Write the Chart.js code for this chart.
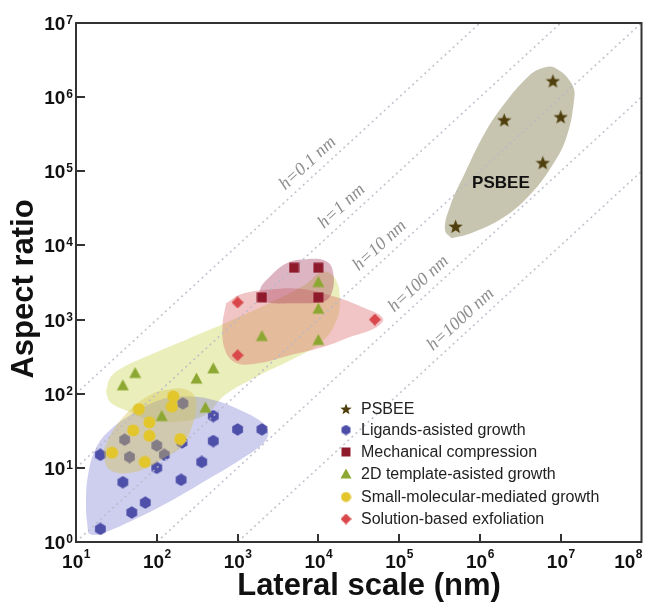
<!DOCTYPE html>
<html>
<head>
<meta charset="utf-8">
<script src="https://cdn.jsdelivr.net/npm/chart.js@4.4.1/dist/chart.umd.min.js"></script>
<style>
  html, body { margin: 0; padding: 0; background: #fff; }
  #wrap { width: 650px; height: 602px; }
</style>
</head>
<body>
<div id="wrap"><canvas id="chart" width="650" height="602"></canvas></div>
<script>
// Series names, in legend order
const seriesNames = ['PSBEE', 'Ligands-asisted growth', 'Mechanical compression',
    '2D template-asisted growth', 'Small-molecular-mediated growth', 'Solution-based exfoliation'];

// Point values (lateral scale in nm, aspect ratio)
const psbeeX = [8e6, 2e6, 1e7, 6e6, 5e5];
const psbeeY = [1.65e6, 4.9e5, 5.4e5, 1.3e5, 1.8e4];
const ligandsX = [20, 38, 49, 72, 20, 100, 200, 360, 500, 500, 1000, 2000, 210, 40, 46, 100, 124, 205];
const ligandsY = [15, 6.4, 2.5, 3.4, 1.5, 10, 6.9, 12, 23, 50, 33, 33, 74, 24, 14, 20, 15, 22];
const mechX = [5e3, 1e4, 2e3, 1e4];
const mechY = [5e3, 5e3, 2e3, 2e3];
const templateX = [1e4, 1e4, 2e3, 1e4, 38, 54, 310, 500, 115, 400];
const templateY = [3.2e3, 1.4e3, 600, 530, 130, 190, 160, 220, 50, 65];
const smallX = [28, 71, 51, 81, 81, 60, 160, 154, 195];
const smallY = [16, 12, 32, 27, 41, 62, 92, 67, 24.5];
const solutionX = [1e3, 1e3, 5e4];
const solutionY = [1.7e3, 330, 1e3];

// Shaded outlines round each group (lateral, aspect)
const regionPsbee = [[4.47e5,1.25e4],[3.69e5,1.62e4],[4.26e5,3.35e4],[6.52e5,9.46e4],[1.15e6,3.28e5],[2.04e6,8.32e5],[3.96e6,1.9e6],[5.81e6,2.45e6],[8.47e6,2.5e6],[1.4e7,1.45e6],[1.45e7,8.32e5],[1.15e7,2.66e5],[7.71e6,1.16e5],[4.36e6,5.08e4],[2.04e6,2.45e4],[7.89e5,1.47e4]];
const regionLigands = [[14.2,1.31],[13.3,2.99],[14.2,8.45],[18,19.3],[26.4,32.5],[51.2,54.5],[110,82.5],[234,91.4],[500,82.5],[1070,60.4],[2080,40],[2400,29.3],[2080,21.5],[1070,12.8],[415,6.87],[132,3.33],[51.2,1.98],[24,1.38],[16.4,1.24]];
const regionTemplate = [[23.5,106],[26.4,163],[35.1,216],[82.4,334],[258,566],[805,960],[2520,1680],[6820,2940],[1.11e4,4400],[1.6e4,3650],[1.85e4,1840],[1.65e4,931],[1.11e4,500],[5130,304],[1890,179],[698,96.4],[395,51.8],[168,41.6],[82.4,44.3],[40.4,60.4],[26.4,77.5]];
const regionSmall = [[21.8,17.4],[29,32.5],[46.6,60.4],[82.4,96.4],[146,115],[234,113],[306,82.5],[273,36],[203,19.3],[132,14.2],[75,9.88],[42.4,8.45],[29,8.89],[24,10.4]];
const regionMech = [[1990,1750],[1890,2520],[2520,3800],[4060,5770],[7160,6530],[1.27e4,6070],[1.53e4,4230],[1.46e4,2270],[1.15e4,1750],[4460,1660],[2770,1660]];
const regionSolution = [[720,1660],[1100,2200],[2520,2550],[5910,2600],[1.53e4,2060],[3.6e4,1450],[6.3e4,1040],[5.27e4,790],[2.46e4,580],[1.15e4,425],[4460,330],[1720,255],[950,262],[700,390],[650,805]];

// Constant thickness guide lines: aspect = lateral / h
const thickness = [0.1, 1, 10, 100, 1000];
const thicknessLabels = ['h=0.1 nm', 'h=1 nm', 'h=10 nm', 'h=100 nm', 'h=1000 nm'];
const thicknessLabelAt = [9.5e3, 2.5e4, 7.4e4, 2.24e5, 7.43e5];

// Axis decades
const xExponents = [1, 2, 3, 4, 5, 6, 7, 8];
const yExponents = [0, 1, 2, 3, 4, 5, 6, 7];

function pts(xs, ys) {
    return xs.map((x, i) => ({ x: x, y: ys[i] }));
}
function outline(region) {
    const p = region.map(r => ({ x: r[0], y: r[1] }));
    p.push(p[0]);
    return p;
}

// Marker images
function marker(shape, color, size) {
    const c = document.createElement('canvas');
    c.width = size; c.height = size;
    const g = c.getContext('2d');
    const r = size / 2;
    g.fillStyle = color;
    g.beginPath();
    if (shape === 'star') {
        for (let i = 0; i < 10; i++) {
            const rad = i % 2 === 0 ? r : r * 0.42;
            const a = -Math.PI / 2 + i * Math.PI / 5;
            g.lineTo(r + rad * Math.cos(a), r + 0.5 + rad * Math.sin(a));
        }
    } else if (shape === 'hex') {
        for (let i = 0; i < 6; i++) {
            const a = -Math.PI / 2 + i * Math.PI / 3;
            g.lineTo(r + (r - 0.3) * Math.cos(a), r + (r - 0.3) * Math.sin(a));
        }
    } else if (shape === 'square') {
        g.rect(0.5, 0.5, size - 1, size - 1);
    } else if (shape === 'triangle') {
        g.moveTo(r, 0.5); g.lineTo(size - 0.5, size - 1.5); g.lineTo(0.5, size - 1.5);
    } else if (shape === 'circle') {
        g.arc(r, r, r - 0.5, 0, Math.PI * 2);
    } else if (shape === 'diamond') {
        g.moveTo(r, 0); g.lineTo(size, r); g.lineTo(r, size); g.lineTo(0, r);
    }
    g.closePath();
    g.fill();
    return c;
}

const colors = ['#4f3f0c', '#4d4fa8', '#8e1a2c', '#8da832', '#e3c62c', '#d9474a'];
const shapes = ['star', 'hex', 'square', 'triangle', 'circle', 'diamond'];
const plotSizes = [15, 13, 11, 13, 13, 12];
const legendSizes = [12, 11, 10, 12, 11, 11];
const plotMarkers = shapes.map((s, i) => marker(s, colors[i], plotSizes[i]));
const legendMarkers = shapes.map((s, i) => marker(s, colors[i], legendSizes[i]));

function regionSet(region, fillColor, order) {
    return {
        type: 'line', data: outline(region), fill: 'shape', backgroundColor: fillColor,
        borderColor: 'rgba(0,0,0,0)', borderWidth: 0, pointRadius: 0, tension: 0.4, order: order
    };
}
function pointSet(i, xs, ys, order) {
    return {
        type: 'scatter', label: seriesNames[i], data: pts(xs, ys),
        pointStyle: plotMarkers[i], pointRadius: 6, order: order
    };
}

const datasets = [
    pointSet(0, psbeeX, psbeeY, 0),
    pointSet(1, ligandsX, ligandsY, 70),
    pointSet(2, mechX, mechY, 2),
    pointSet(3, templateX, templateY, 3),
    pointSet(4, smallX, smallY, 4),
    pointSet(5, solutionX, solutionY, 1),
    regionSet(regionPsbee, 'rgba(178,173,145,0.72)', 90),
    regionSet(regionTemplate, 'rgba(205,215,90,0.42)', 85),
    regionSet(regionLigands, 'rgba(120,120,210,0.36)', 80),
    regionSet(regionSmall, 'rgba(215,195,80,0.4)', 60),
    regionSet(regionSolution, 'rgba(220,110,110,0.4)', 55),
    regionSet(regionMech, 'rgba(165,60,95,0.38)', 50)
];
thickness.forEach(h => {
    datasets.push({
        type: 'line', data: [{ x: 10, y: 10 / h }, { x: 1e8, y: 1e8 / h }],
        borderColor: 'rgba(185,185,200,0.85)', borderWidth: 1.6, borderDash: [2, 3.5],
        pointRadius: 0, fill: false, order: 45
    });
});

const FONT = '"Liberation Sans", Arial, sans-serif';

const decor = {
    id: 'decor',
    afterDatasetsDraw(chart) {
        const ctx = chart.ctx;
        const area = chart.chartArea;
        const xs = chart.scales.x, ys = chart.scales.y;
        ctx.save();

        // guide line labels
        ctx.fillStyle = '#8e8e8e';
        ctx.font = 'italic 18px "Liberation Serif", "Times New Roman", serif';
        ctx.textAlign = 'center';
        ctx.textBaseline = 'middle';
        thickness.forEach((h, i) => {
            const x1 = xs.getPixelForValue(1e2), y1 = ys.getPixelForValue(1e2 / h);
            const x2 = xs.getPixelForValue(1e6), y2 = ys.getPixelForValue(1e6 / h);
            const a = Math.atan2(y2 - y1, x2 - x1);
            const fx = xs.getPixelForValue(thicknessLabelAt[i]);
            const fy = ys.getPixelForValue(thicknessLabelAt[i] / h);
            ctx.save();
            ctx.translate(fx + 13 * Math.sin(a), fy - 13 * Math.cos(a));
            ctx.rotate(a);
            ctx.fillText(thicknessLabels[i], 0, 0);
            ctx.restore();
        });

        // group label
        ctx.fillStyle = '#111';
        ctx.font = 'bold 17px ' + FONT;
        ctx.fillText('PSBEE', xs.getPixelForValue(1.82e6), ys.getPixelForValue(6.78e4));

        // frame and inward ticks
        ctx.strokeStyle = '#333';
        ctx.lineWidth = 2;
        ctx.strokeRect(area.left, area.top, area.right - area.left, area.bottom - area.top);
        ctx.beginPath();
        xExponents.slice(1, -1).forEach(e => {
            const px = Math.round(xs.getPixelForValue(Math.pow(10, e)));
            ctx.moveTo(px, area.bottom); ctx.lineTo(px, area.bottom - 8);
        });
        yExponents.slice(1, -1).forEach(e => {
            const py = Math.round(ys.getPixelForValue(Math.pow(10, e)));
            ctx.moveTo(area.left, py); ctx.lineTo(area.left + 9, py);
        });
        ctx.stroke();

        // tick labels with superscripts
        ctx.fillStyle = '#111';
        ctx.textAlign = 'left';
        ctx.textBaseline = 'alphabetic';
        xExponents.forEach(e => {
            const px = xs.getPixelForValue(Math.pow(10, e));
            ctx.font = 'bold 19px ' + FONT;
            const w1 = ctx.measureText('10').width;
            ctx.font = 'bold 12px ' + FONT;
            const w2 = ctx.measureText(String(e)).width;
            let start = px - (w1 + w2) / 2;
            if (start + w1 + w2 > 642) start = 642 - w1 - w2;
            ctx.font = 'bold 19px ' + FONT;
            ctx.fillText('10', start, 568);
            ctx.font = 'bold 12px ' + FONT;
            ctx.fillText(String(e), start + w1 + 0.5, 558);
        });
        yExponents.forEach(e => {
            const py = ys.getPixelForValue(Math.pow(10, e));
            ctx.font = 'bold 12px ' + FONT;
            const w2 = ctx.measureText(String(e)).width;
            ctx.fillText(String(e), 73 - w2, py + 1);
            ctx.font = 'bold 19px ' + FONT;
            const w1 = ctx.measureText('10').width;
            ctx.fillText('10', 72 - w2 - w1, py + 7);
        });

        // axis titles
        ctx.font = 'bold 31px ' + FONT;
        ctx.textAlign = 'center';
        ctx.fillText('Lateral scale (nm)', 369, 595);
        ctx.save();
        ctx.translate(33, 289);
        ctx.rotate(-Math.PI / 2);
        ctx.fillText('Aspect ratio', 0, 0);
        ctx.restore();

        // legend
        ctx.font = '16px ' + FONT;
        ctx.textAlign = 'left';
        ctx.textBaseline = 'middle';
        ctx.fillStyle = '#222';
        const rows = [409, 430, 452, 474, 497, 519];
        seriesNames.forEach((name, i) => {
            const m = legendMarkers[i];
            ctx.drawImage(m, 346 - m.width / 2, rows[i] - m.height / 2);
            ctx.fillText(name, 361, rows[i] + 1);
        });
        ctx.restore();
    }
};

new Chart(document.getElementById('chart'), {
    type: 'scatter',
    data: { datasets: datasets },
    options: {
        responsive: false,
        animation: false,
        events: [],
        layout: { padding: { left: 76, right: 8.5, top: 23, bottom: 60 } },
        scales: {
            x: { type: 'logarithmic', min: 10, max: 1e8, display: false },
            y: { type: 'logarithmic', min: 1, max: 1e7, display: false }
        },
        plugins: { legend: { display: false }, tooltip: { enabled: false } }
    },
    plugins: [decor]
});
</script>
</body>
</html>
